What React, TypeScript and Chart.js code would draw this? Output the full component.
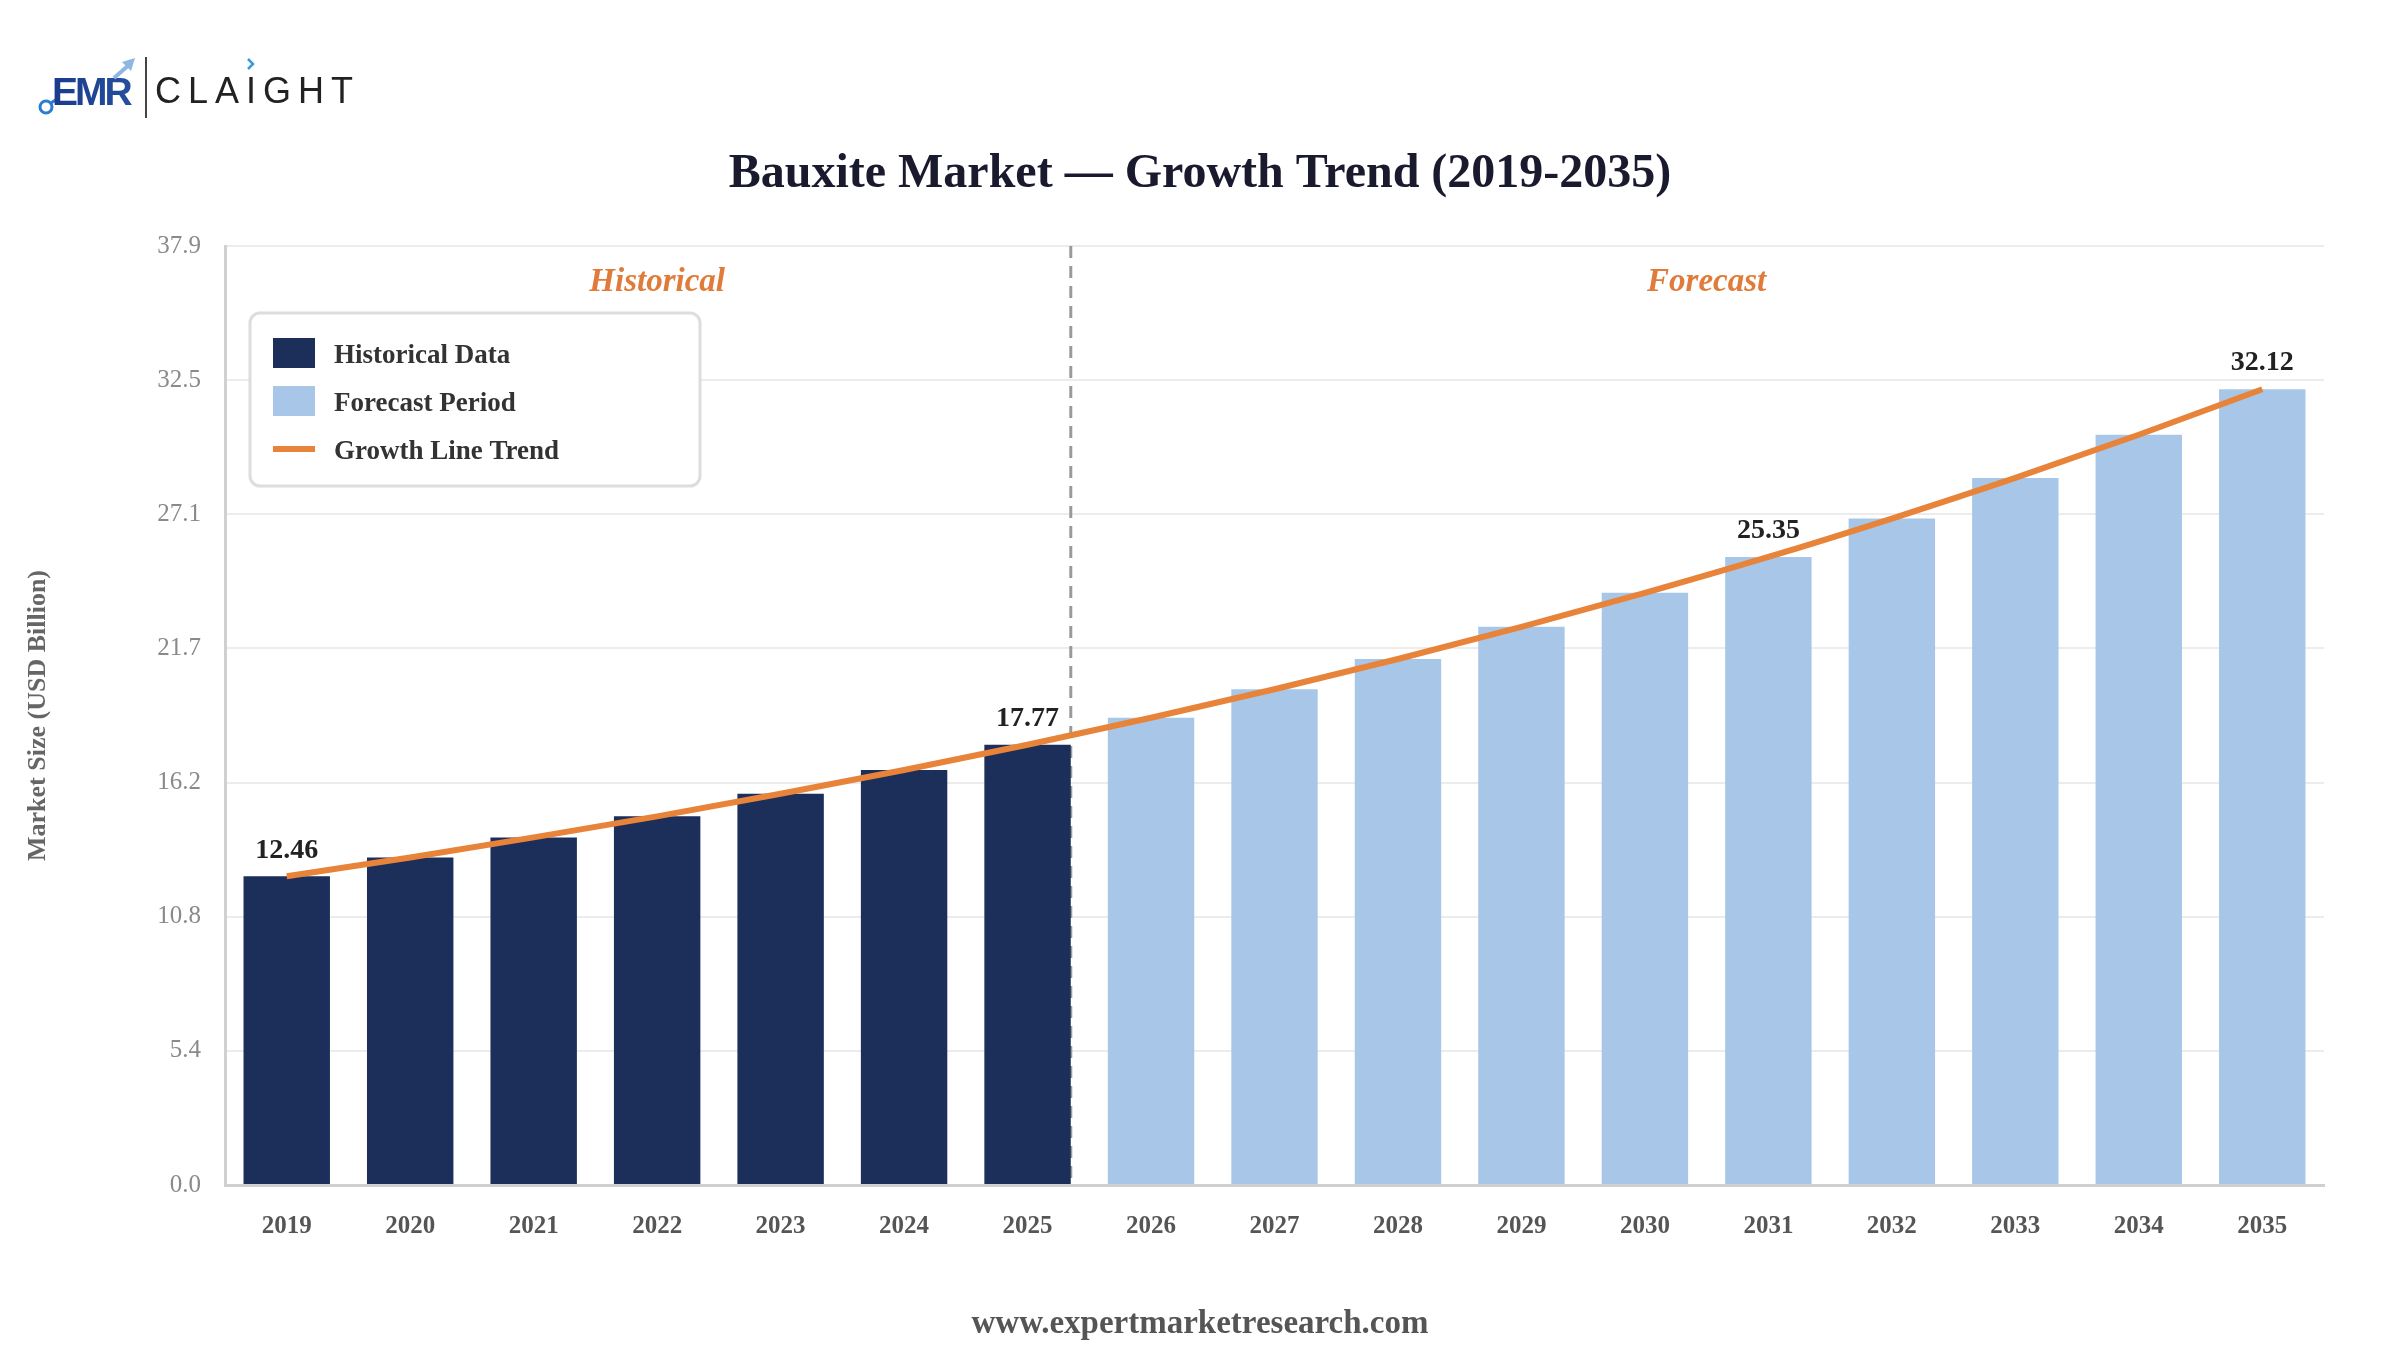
import React, { useEffect, useRef } from "react";
import { Chart, registerables } from "chart.js";

Chart.register(...registerables);

// ---------- data ----------
const years = [
  "2019", "2020", "2021", "2022", "2023", "2024", "2025", "2026", "2027",
  "2028", "2029", "2030", "2031", "2032", "2033", "2034", "2035",
];
const marketValues = [
  12.46, 13.22, 14.03, 14.88, 15.79, 16.75, 17.77, 18.86, 20.01,
  21.23, 22.53, 23.9, 25.35, 26.9, 28.54, 30.28, 32.12,
];
const lastHistoricalYear = "2025";
const labeledYears = ["2019", "2025", "2031", "2035"];
const yAxisMax = 37.9;
const yTickCount = 8;

const TITLE = "Bauxite Market — Growth Trend (2019-2035)";
const Y_TITLE = "Market Size (USD Billion)";
const FOOTER = "www.expertmarketresearch.com";
const PERIOD_LABELS = ["Historical", "Forecast"];
const SERIES_LABELS = ["Historical Data", "Forecast Period", "Growth Line Trend"];

// ---------- styles ----------
const SERIF = "'Liberation Serif', 'Times New Roman', serif";
const NAVY = "#1C2E5A";
const LIGHT = "#A8C7E8";
const ORANGE = "#E8833A";

const histEnd = years.indexOf(lastHistoricalYear);
const historicalValues = marketValues.map((v, i) => (i <= histEnd ? v : null));
const forecastValues = marketValues.map((v, i) => (i > histEnd ? v : null));

const decorPlugin = {
  id: "decor",
  beforeDatasetsDraw(chart: any) {
    const { ctx, chartArea } = chart;
    const bar: any = chart.getDatasetMeta(0).data[histEnd];
    if (!bar) return;
    const x = bar.x + bar.width / 2;
    ctx.save();
    ctx.strokeStyle = "#9a9a9a";
    ctx.lineWidth = 3;
    ctx.setLineDash([12, 8]);
    ctx.beginPath();
    ctx.moveTo(x, chartArea.top);
    ctx.lineTo(x, chartArea.bottom);
    ctx.stroke();
    ctx.restore();
  },
  afterDatasetsDraw(chart: any) {
    const { ctx } = chart;
    const xs = chart.scales.x;
    ctx.save();
    // period labels
    ctx.font = `italic bold 33px ${SERIF}`;
    ctx.fillStyle = "#E07B39";
    ctx.textAlign = "center";
    ctx.textBaseline = "middle";
    const hx = (xs.getPixelForValue(0) + xs.getPixelForValue(histEnd)) / 2;
    const fx = (xs.getPixelForValue(histEnd + 1) + xs.getPixelForValue(years.length - 1)) / 2;
    ctx.fillText(PERIOD_LABELS[0], hx, 282);
    ctx.fillText(PERIOD_LABELS[1], fx, 282);

    // data labels
    ctx.font = `bold 28px ${SERIF}`;
    ctx.fillStyle = "#222";
    labeledYears.forEach((yr) => {
      const i = years.indexOf(yr);
      const ds = i <= histEnd ? 0 : 1;
      const el: any = chart.getDatasetMeta(ds).data[i];
      if (!el) return;
      ctx.fillText(marketValues[i].toFixed(2), el.x, el.y - 26);
    });

    // legend box
    const bx = 250, by = 313, bw = 450, bh = 173;
    ctx.beginPath();
    ctx.roundRect(bx, by, bw, bh, 10);
    ctx.fillStyle = "#fff";
    ctx.fill();
    ctx.strokeStyle = "#dddddd";
    ctx.lineWidth = 3;
    ctx.stroke();
    const rows = [353, 401, 449];
    chart.data.datasets.forEach((d: any, k: number) => {
      const cy = rows[k];
      if (d.type === "line") {
        ctx.fillStyle = d.borderColor;
        ctx.fillRect(273, cy - 3, 42, 6);
      } else {
        ctx.fillStyle = d.backgroundColor;
        ctx.fillRect(273, cy - 15, 42, 30);
      }
      ctx.fillStyle = "#333";
      ctx.font = `bold 27px ${SERIF}`;
      ctx.textAlign = "left";
      ctx.textBaseline = "middle";
      ctx.fillText(d.label, 334, cy + 3);
    });
    ctx.restore();
  },
  afterDraw(chart: any) {
    const { ctx, width } = chart;
    ctx.save();
    // title
    ctx.fillStyle = "#1A1A2E";
    ctx.font = `bold 48px ${SERIF}`;
    ctx.textAlign = "center";
    ctx.textBaseline = "middle";
    ctx.fillText(TITLE, width / 2, 175);
    // footer
    ctx.fillStyle = "#555";
    ctx.font = `bold 33px ${SERIF}`;
    ctx.fillText(FOOTER, width / 2, 1324);

    // logo
    ctx.strokeStyle = "#2A7BD1";
    ctx.lineWidth = 3;
    ctx.beginPath();
    ctx.arc(46, 107, 6, 0, Math.PI * 2);
    ctx.stroke();
    ctx.beginPath();
    ctx.moveTo(51, 103);
    ctx.lineTo(57, 99);
    ctx.stroke();
    const g = ctx.createLinearGradient(52, 0, 134, 0);
    g.addColorStop(0, "#1B3A8C");
    g.addColorStop(1, "#24509E");
    ctx.fillStyle = g;
    ctx.font = "bold 39px 'Liberation Sans', Arial, sans-serif";
    ctx.textAlign = "left";
    ctx.textBaseline = "alphabetic";
    (ctx as any).letterSpacing = "-3px";
    ctx.fillText("EMR", 52, 105);
    (ctx as any).letterSpacing = "0px";
    ctx.strokeStyle = "#8DB8E3";
    ctx.lineWidth = 4;
    ctx.beginPath();
    ctx.moveTo(114, 78);
    ctx.lineTo(130, 64);
    ctx.stroke();
    ctx.fillStyle = "#8DB8E3";
    ctx.beginPath();
    ctx.moveTo(135, 58);
    ctx.lineTo(122, 62);
    ctx.lineTo(131, 71);
    ctx.closePath();
    ctx.fill();
    ctx.strokeStyle = "#444";
    ctx.lineWidth = 2;
    ctx.beginPath();
    ctx.moveTo(146, 57);
    ctx.lineTo(146, 118);
    ctx.stroke();
    ctx.fillStyle = "#222";
    ctx.font = "36px 'Liberation Sans', Arial, sans-serif";
    (ctx as any).letterSpacing = "7px";
    ctx.fillText("CLAIGHT", 155, 103);
    (ctx as any).letterSpacing = "0px";
    ctx.strokeStyle = "#3A9AD9";
    ctx.lineWidth = 2.5;
    ctx.beginPath();
    ctx.moveTo(248, 59);
    ctx.lineTo(253, 64);
    ctx.lineTo(248, 69);
    ctx.stroke();
    ctx.restore();
  },
};

export default function App() {
  const ref = useRef<HTMLCanvasElement>(null);
  useEffect(() => {
    document.body.style.margin = "0";
    const chart = new Chart(ref.current as HTMLCanvasElement, {
      type: "bar",
      data: {
        labels: years,
        datasets: [
          {
            type: "bar",
            label: SERIES_LABELS[0],
            data: historicalValues,
            backgroundColor: NAVY,
            barPercentage: 0.7,
            categoryPercentage: 1,
            grouped: false,
            order: 1,
          } as any,
          {
            type: "bar",
            label: SERIES_LABELS[1],
            data: forecastValues,
            backgroundColor: LIGHT,
            barPercentage: 0.7,
            categoryPercentage: 1,
            grouped: false,
            order: 1,
          } as any,
          {
            type: "line",
            label: SERIES_LABELS[2],
            data: marketValues,
            borderColor: ORANGE,
            backgroundColor: ORANGE,
            borderWidth: 6,
            pointRadius: 0,
            tension: 0.4,
            cubicInterpolationMode: "monotone",
            fill: false,
            order: 0,
          } as any,
        ],
      },
      options: {
        responsive: false,
        devicePixelRatio: 1,
        animation: false,
        layout: { padding: { top: 246, right: 76, bottom: 85, left: 0 } },
        plugins: {
          legend: { display: false },
          title: { display: false },
          tooltip: { enabled: false },
        },
        scales: {
          x: {
            grid: { display: false, drawTicks: false },
            border: { display: true, color: "#cfcfcf", width: 3 },
            ticks: {
              color: "#555",
              font: { family: SERIF, size: 25, weight: "bold" },
              padding: 27,
            },
            afterFit(s: any) {
              s.height = 80;
            },
          },
          y: {
            min: 0,
            max: yAxisMax,
            ticks: {
              count: yTickCount,
              callback: (v: any) => Number(v).toFixed(1),
              color: "#8a8a8a",
              font: { family: SERIF, size: 25 },
              padding: 24,
            },
            grid: { color: "#ececec", lineWidth: 2, drawTicks: false },
            border: { display: true, color: "#d0d0d0", width: 3 },
            title: {
              display: true,
              text: Y_TITLE,
              color: "#666",
              font: { family: SERIF, size: 26, weight: "bold" },
              padding: { top: 23, bottom: 0 },
            },
            afterFit(s: any) {
              s.width = 225;
            },
          },
        },
      } as any,
      plugins: [decorPlugin],
    });
    return () => chart.destroy();
  }, []);
  return (
    <div style={{ width: 2400, height: 1350, background: "#fff" }}>
      <canvas ref={ref} width={2400} height={1350} style={{ display: "block" }} />
    </div>
  );
}
